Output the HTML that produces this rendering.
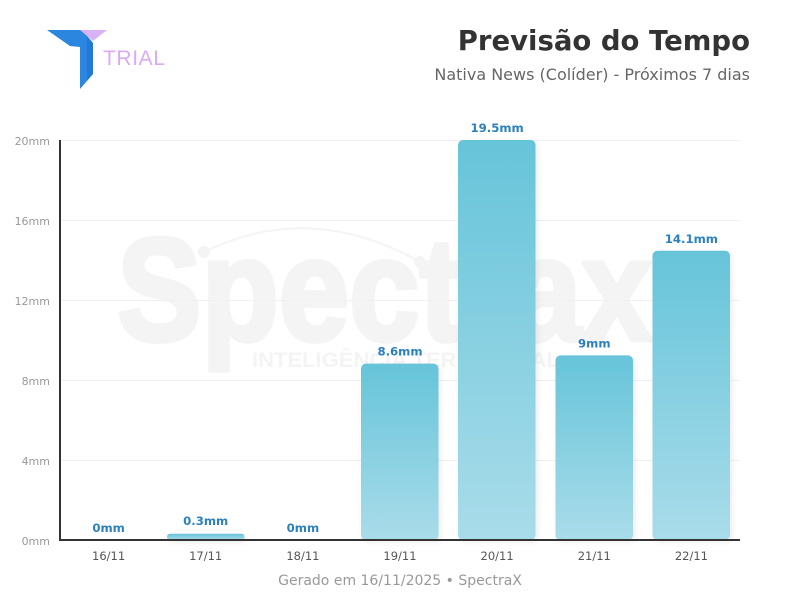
<!DOCTYPE html>
<html>
<head>
<meta charset="utf-8">
<style>
  html,body{margin:0;padding:0;background:#fff;}
  svg{display:block;}
</style>
</head>
<body>
<svg width="800" height="600" viewBox="0 0 800 600" xmlns="http://www.w3.org/2000/svg">
  <defs>
    <linearGradient id="bg" x1="0" y1="0" x2="0" y2="1">
      <stop offset="0" stop-color="#66c4d9"/>
      <stop offset="1" stop-color="#a9dcea"/>
    </linearGradient>
    <filter id="sh" x="-20%" y="-20%" width="140%" height="140%">
      <feDropShadow dx="2" dy="2" stdDeviation="3" flood-color="#000" flood-opacity="0.08"/>
    </filter>
  </defs>
  <rect width="800" height="600" fill="#fff"/>

  <!-- Logo -->
  <polygon points="47,30 82,30 93,43 93,74 80,89 80,47 70,46" fill="#2a86de"/>
  <polygon points="82,30 93,43 93,74 87,81 87,37" fill="#1f6fcf" opacity="0.55"/>
  <polygon points="80,30 107,30 93,41" fill="#d9b2f5"/>
  <text x="103" y="65" font-family="Liberation Sans, DejaVu Sans, sans-serif" font-size="21" fill="#dcaaf5" letter-spacing="0.6">TRIAL</text>

  <!-- Watermark (behind) -->
  <g fill="#f4f4f4" stroke="#f4f4f4">
    <text x="117" y="340" font-family="Liberation Sans, sans-serif" font-weight="bold" font-size="146" stroke-width="5" stroke-linejoin="round" textLength="535" lengthAdjust="spacingAndGlyphs">Spectrax</text>
    <text x="252" y="367" font-family="Liberation Sans, sans-serif" font-weight="bold" font-size="21" stroke-width="0" textLength="308" lengthAdjust="spacingAndGlyphs">INTELIGÊNCIA TERRITORIAL</text>
    <path d="M204,252 Q310,200 420,262" fill="none" stroke-width="2"/>
    <circle cx="204" cy="252" r="6" stroke-width="0"/>
    <circle cx="420" cy="262" r="6" stroke-width="0"/>
  </g>

  <!-- Title -->
  <text x="750" y="50" text-anchor="end" font-family="DejaVu Sans, sans-serif" font-weight="bold" font-size="27.5" fill="#333">Previsão do Tempo</text>
  <text x="750" y="80" text-anchor="end" font-family="DejaVu Sans, sans-serif" font-size="16" fill="#666">Nativa News (Colíder) - Próximos 7 dias</text>

  <!-- Gridlines -->
  <g stroke="#f0f0f0" stroke-width="1">
    <line x1="60" y1="140.5" x2="740" y2="140.5"/>
    <line x1="60" y1="220.5" x2="740" y2="220.5"/>
    <line x1="60" y1="300.5" x2="740" y2="300.5"/>
    <line x1="60" y1="380.5" x2="740" y2="380.5"/>
    <line x1="60" y1="460.5" x2="740" y2="460.5"/>
  </g>

  <!-- Y tick labels -->
  <g font-family="DejaVu Sans, sans-serif" font-size="11" fill="#999" text-anchor="end">
    <text x="50" y="145">20mm</text>
    <text x="50" y="225">16mm</text>
    <text x="50" y="305">12mm</text>
    <text x="50" y="385">8mm</text>
    <text x="50" y="465">4mm</text>
    <text x="50" y="545">0mm</text>
  </g>

  <!-- Bars -->
  <g filter="url(#sh)" fill="url(#bg)">
    <rect x="167" y="533.8" width="77.5" height="6.2" rx="3" ry="3"/>
    <rect x="361" y="363.6" width="77.5" height="176.4" rx="5" ry="5"/>
    <rect x="458" y="140" width="77.5" height="400" rx="5" ry="5"/>
    <rect x="555.5" y="355.4" width="77.5" height="184.6" rx="5" ry="5"/>
    <rect x="652.5" y="250.8" width="77.5" height="289.2" rx="5" ry="5"/>
  </g>

  <!-- Axes -->
  <line x1="60" y1="140" x2="60" y2="541" stroke="#333" stroke-width="2"/>
  <line x1="59" y1="540" x2="740" y2="540" stroke="#333" stroke-width="2"/>

  <!-- Value labels -->
  <g font-family="DejaVu Sans, sans-serif" font-weight="bold" font-size="11.7" fill="#2a80c0" text-anchor="middle">
    <text x="108.6" y="532">0mm</text>
    <text x="205.7" y="525">0.3mm</text>
    <text x="302.9" y="532">0mm</text>
    <text x="400" y="355.5">8.6mm</text>
    <text x="497.1" y="132">19.5mm</text>
    <text x="594.3" y="347.5">9mm</text>
    <text x="691.4" y="243">14.1mm</text>
  </g>

  <!-- X tick labels -->
  <g font-family="DejaVu Sans, sans-serif" font-size="11.5" fill="#555" text-anchor="middle">
    <text x="108.6" y="560">16/11</text>
    <text x="205.7" y="560">17/11</text>
    <text x="302.9" y="560">18/11</text>
    <text x="400" y="560">19/11</text>
    <text x="497.1" y="560">20/11</text>
    <text x="594.3" y="560">21/11</text>
    <text x="691.4" y="560">22/11</text>
  </g>

  <!-- Footer -->
  <text x="400" y="585" text-anchor="middle" font-family="DejaVu Sans, sans-serif" font-size="14" fill="#999">Gerado em 16/11/2025 • SpectraX</text>
</svg>
</body>
</html>
